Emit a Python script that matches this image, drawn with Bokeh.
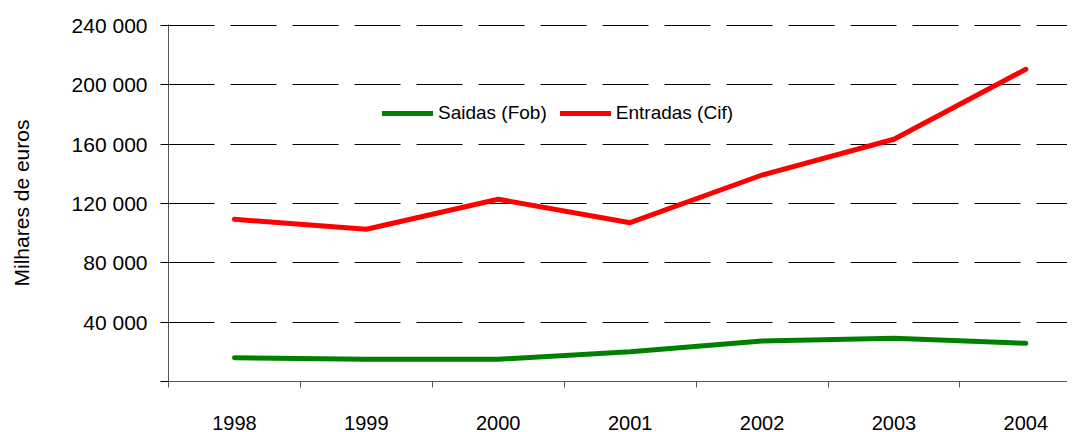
from bokeh.plotting import figure
from bokeh.models import Range1d, FixedTicker, Legend, LegendItem
from bokeh.embed import file_html
from bokeh.resources import INLINE

years = [1998, 1999, 2000, 2001, 2002, 2003, 2004]
year_labels = ["1998", "1999", "2000", "2001", "2002", "2003", "2004"]
saidas = [16050, 14970, 14970, 20090, 27300, 29120, 25750]
entradas = [109350, 102600, 122840, 107060, 139220, 163290, 210490]
y_ticks = [0, 40000, 80000, 120000, 160000, 200000, 240000]
y_tick_labels = ["", "40 000", "80 000", "120 000", "160 000", "200 000", "240 000"]
series_names = ["Saidas (Fob)", "Entradas (Cif)"]

FONT = "Liberation Sans"
W, H = 1067, 432
left, top, bottom = 168, 24, 51
px_per_year = 131.9
x0 = years[0] - 0.5
x1 = x0 + (W - left) / px_per_year
frame_h = H - top - bottom
y_end = y_ticks[-1] * frame_h / (frame_h - 1)

p = figure(width=W, height=H, output_backend="svg", toolbar_location=None,
           x_range=Range1d(x0, x1), y_range=Range1d(y_ticks[0], y_end),
           min_border_left=left, min_border_right=0, min_border_top=top,
           min_border_bottom=bottom)
p.outline_line_color = None
p.background_fill_color = "white"
p.border_fill_color = "white"

# grid
p.xgrid.visible = False
p.ygrid.ticker = FixedTicker(ticks=y_ticks[1:])
p.ygrid.grid_line_color = "black"
p.ygrid.grid_line_dash = "46 16"
p.ygrid.grid_line_width = 1

# lines
r_s = p.line(years, saidas, line_color="#008000", line_width=5, line_join="round", line_cap="round")
r_e = p.line(years, entradas, line_color="#FF0000", line_width=5, line_join="round", line_cap="round")

# x axis
xa = p.xaxis[0]
xa.ticker = FixedTicker(ticks=years, minor_ticks=[y - 0.5 for y in years] + [years[-1] + 0.5])
xa.major_label_overrides = {y: l for y, l in zip(years, year_labels)}
xa.major_tick_out = 0
xa.major_tick_in = 0
xa.minor_tick_out = 6
xa.minor_tick_in = 0
xa.minor_tick_line_color = "#555555"
xa.axis_line_color = "#555555"
xa.major_label_text_font = FONT
xa.major_label_text_font_size = "20px"
xa.major_label_text_color = "black"
xa.major_label_standoff = 28

# y axis
ya = p.yaxis[0]
ya.ticker = FixedTicker(ticks=y_ticks)
ya.major_label_overrides = {t: l for t, l in zip(y_ticks, y_tick_labels)}
ya.major_tick_out = 8
ya.major_tick_in = 0
ya.minor_tick_line_color = None
ya.major_tick_line_color = "black"
ya.axis_line_color = "#555555"
ya.major_label_text_font = FONT
ya.major_label_text_font_size = "21px"
ya.major_label_text_color = "black"
ya.major_label_standoff = 13
ya.axis_label = "Milhares de euros"
ya.axis_label_text_font = FONT
ya.axis_label_text_font_size = "21px"
ya.axis_label_text_font_style = "normal"
ya.axis_label_text_color = "black"
ya.axis_label_standoff = 36

legend = Legend(items=[LegendItem(label=series_names[0], renderers=[r_s]),
                       LegendItem(label=series_names[1], renderers=[r_e])],
                location=(214, 257), orientation="horizontal",
                border_line_color=None, background_fill_alpha=0,
                padding=0, margin=0, spacing=13,
                glyph_width=51, glyph_height=20, label_height=20,
                label_standoff=5,
                label_text_font=FONT, label_text_font_size="19px",
                label_text_color="black")
p.add_layout(legend)

open("out.html", "w").write(file_html(p, INLINE))
